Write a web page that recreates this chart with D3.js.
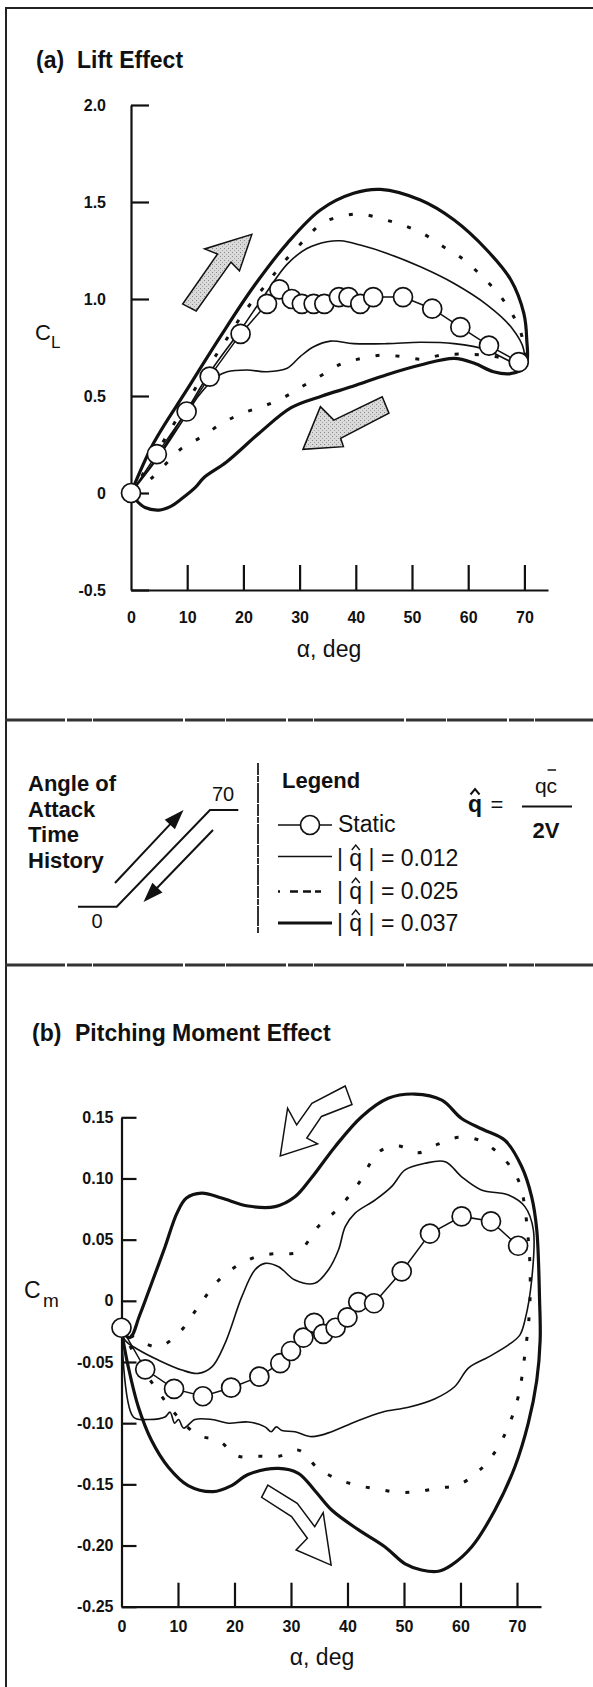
<!DOCTYPE html>
<html><head><meta charset="utf-8">
<script src="https://cdn.jsdelivr.net/npm/d3@7/dist/d3.min.js"></script>
<style>
html,body{margin:0;padding:0;background:#fff;}
svg{display:block;}
text{font-family:"Liberation Sans",Arial,Helvetica,sans-serif;fill:#111;}
</style></head><body>
<svg id="chart" width="593" height="1687"></svg>
<script>
// ---------------- DATA ----------------
const alphaTicks = [0,10,20,30,40,50,60,70];
const alphaTickLabels = ["0","10","20","30","40","50","60","70"];
const liftTicks = [2.0,1.5,1.0,0.5,0,-0.5];
const liftTickLabels = ["2.0","1.5","1.0","0.5","0","-0.5"];
const momentTicks = [0.15,0.10,0.05,0,-0.05,-0.10,-0.15,-0.20,-0.25];
const momentTickLabels = ["0.15","0.10","0.05","0","-0.05","-0.10","-0.15","-0.20","-0.25"];
const legendLabels = ["Static","0.012","0.025","0.037"];

// (a) Lift - static
const liftStaticAlpha = [0,4.6,9.9,14,19.5,24.2,26.4,28.6,30.4,32.5,34.4,37,38.7,40.8,43.1,48.4,53.6,58.6,63.7,69];
const liftStaticCL    = [0,0.20,0.42,0.60,0.82,0.975,1.05,1.0,0.975,0.975,0.975,1.01,1.01,0.975,1.01,1.01,0.95,0.855,0.76,0.675];
// |q|=0.012
const lift012UpAlpha = [0,5,10,14,19.5,24,27.8,31.3,34.9,37.3,40.8,45.6,51.5,57.5,63.4,67.6,69.9,69.5];
const lift012UpCL    = [0,0.2,0.43,0.62,0.84,1.03,1.18,1.26,1.295,1.30,1.278,1.235,1.166,1.08,0.969,0.857,0.737,0.66];
const lift012DnAlpha = [69.5,66,63.4,57.5,51.5,45.6,39.6,35.5,32.5,30.1,27.8,24.2,20.6,17.1,15.3,12,10,5,0];
const lift012DnCL    = [0.66,0.70,0.737,0.77,0.777,0.77,0.77,0.783,0.754,0.703,0.643,0.625,0.634,0.625,0.60,0.50,0.41,0.19,0];
// |q|=0.025
const lift025UpAlpha = [0,5,10,14,16.5,20,24.2,27.2,30.7,34,37.6,41.1,45,48.5,52.1,55.4,58.9,62.2,65.8,68.4,69.8,70];
const lift025UpCL    = [0,0.23,0.47,0.66,0.77,0.926,1.081,1.19,1.30,1.39,1.428,1.437,1.41,1.38,1.335,1.273,1.21,1.124,1.012,0.892,0.78,0.66];
const lift025DnAlpha = [70,67,63,58.6,55,51.8,48.2,44.7,41.1,37.6,34,30.4,26.9,23.3,19.7,16.2,12.6,9,5.7,3,0];
const lift025DnCL    = [0.66,0.69,0.71,0.716,0.71,0.69,0.703,0.711,0.694,0.668,0.608,0.548,0.488,0.445,0.41,0.359,0.29,0.23,0.135,0.06,0];
// |q|=0.037
const lift037UpAlpha = [0,4,9.9,15.9,21.8,27.8,33.7,39.6,44.4,51.5,57.5,63.4,67.6,69.9,70.4,70.2];
const lift037UpCL    = [0,0.256,0.53,0.806,1.063,1.287,1.459,1.545,1.565,1.51,1.407,1.25,1.098,0.926,0.80,0.65];
const lift037DnAlpha = [70.2,67.5,64.5,61,57.5,51.5,45.5,39.5,34,28.5,22.8,17,13,11.5,9,7,5,2.5,1,0];
const lift037DnCL    = [0.65,0.615,0.625,0.67,0.694,0.66,0.61,0.55,0.50,0.44,0.308,0.16,0.08,0.03,-0.03,-0.07,-0.088,-0.075,-0.04,0];
// direction arrows (a)
const liftArrowUpAlpha = [9.2,15.4,13.1,21.5,19.3,17.8,11.6];
const liftArrowUpCL    = [0.974,1.232,1.258,1.333,1.145,1.19,0.938];
const liftArrowDnAlpha = [30.6,33.7,36.1,44.7,45.9,37.3,37.8];
const liftArrowDnCL    = [0.225,0.445,0.376,0.496,0.411,0.282,0.239];

// (b) Pitching moment - static
const momStaticAlpha = [0,4.2,9.3,14.4,19.4,24.4,28.1,30,32.2,34.1,35.7,37.9,40,41.9,44.7,49.6,54.6,60.2,65.4,70.2];
const momStaticCm    = [-0.022,-0.056,-0.072,-0.078,-0.071,-0.062,-0.051,-0.041,-0.03,-0.018,-0.027,-0.022,-0.0135,-0.001,-0.002,0.024,0.055,0.069,0.065,0.045];
// |q|=0.012
const mom012UpAlpha = [0,2.1,4.7,7.7,8.6,9.4,10.1,11,13,16,18.9,22.4,25.4,26.5,27.4,28.4,30.7,33.7,37.2,41.3,46.1,50.8,55.5,59,61.4,64.9,68.5,70.5,71.4,72.6,72.9];
const mom012UpCm    = [-0.022,-0.095,-0.097,-0.095,-0.091,-0.1,-0.097,-0.104,-0.097,-0.097,-0.1,-0.099,-0.103,-0.107,-0.103,-0.106,-0.107,-0.111,-0.107,-0.099,-0.091,-0.087,-0.08,-0.07,-0.055,-0.046,-0.036,-0.028,-0.016,0.017,0.058];
const mom012DnAlpha = [72.9,71.4,68.5,63.7,60.2,57.3,53.7,50.2,47.8,44.9,41.3,39.6,38.4,36.6,34.2,30.7,27.8,25.4,23.6,21.3,18.3,16,13.6,10.7,6.5,3,0.6,0];
const mom012DnCm    = [0.058,0.077,0.0865,0.0906,0.1014,0.1137,0.1124,0.107,0.0933,0.0824,0.0715,0.0606,0.0415,0.0252,0.0143,0.017,0.0279,0.0306,0.0252,0.0034,-0.035,-0.054,-0.0593,-0.0566,-0.0484,-0.040,-0.032,-0.022];
// |q|=0.025
const mom025UpAlpha = [0,3,6.5,10,13.6,17.1,20.7,24.3,27.9,31.3,34.8,38.4,41.9,45.5,49,52.4,56,59.5,63,66.6,69.9,71.5,72.3];
const mom025UpCm    = [-0.022,-0.05,-0.074,-0.095,-0.11,-0.114,-0.127,-0.127,-0.127,-0.122,-0.137,-0.146,-0.151,-0.154,-0.1565,-0.156,-0.153,-0.1506,-0.14,-0.12,-0.084,-0.04,0.0];
const mom025DnAlpha = [72.3,72,70.2,66.7,63.2,59.6,56,52.5,49,45.6,41.9,38.4,34.8,31.3,27.8,24.3,20.7,17.1,13.6,10.1,6.5,3,0];
const mom025DnCm    = [0.0,0.05,0.099,0.1206,0.1314,0.1336,0.128,0.121,0.1265,0.1219,0.0955,0.0756,0.0606,0.0399,0.0388,0.0366,0.0293,0.0164,-0.0048,-0.0266,-0.0375,-0.032,-0.022];
// |q|=0.037
const mom037UpAlpha = [0,1.2,3,5.3,8.3,11.8,16.2,19.5,22.4,27.8,31.3,34.2,37.2,41.9,46.6,50.2,53.1,56.1,58.4,62,66.1,69.6,72,73.5,74.1,74,73.5];
const mom037UpCm    = [-0.025,-0.054,-0.087,-0.114,-0.136,-0.151,-0.156,-0.151,-0.142,-0.137,-0.141,-0.155,-0.171,-0.187,-0.201,-0.215,-0.22,-0.221,-0.216,-0.201,-0.171,-0.136,-0.1,-0.065,-0.032,0.0,0.058];
const mom037DnAlpha = [73.5,72.6,70.8,67.9,64,60.2,56.7,51.9,47.2,42.5,37.8,33.7,30.7,27.2,22.4,17.7,14.2,11.5,9.8,7.7,5.3,3.2,1.5,0];
const mom037DnCm    = [0.058,0.085,0.11,0.131,0.14,0.149,0.164,0.169,0.1655,0.1505,0.126,0.101,0.085,0.077,0.0775,0.084,0.088,0.084,0.0715,0.044,0.014,-0.012,-0.03,-0.025];
// direction arrows (b)
const momArrowTopAlpha = [39.6,33.7,31.0,29.4,28.1,34.7,32.8,35.4,40.8];
const momArrowTopCm    = [0.1756,0.1614,0.1438,0.1574,0.1185,0.1283,0.133,0.1507,0.1605];
const momArrowBotAlpha = [25.9,31.1,34.2,35.7,37.1,30.9,32.9,30.1,24.8];
const momArrowBotCm    = [-0.1506,-0.1655,-0.1846,-0.1732,-0.216,-0.2037,-0.1941,-0.1764,-0.1606];

// ---------------- DRAW ----------------
const svg = d3.select("#chart");
const zip = (a,b) => a.map((v,i)=>[v,b[i]]);
const INK = "#111";

// stipple pattern for shaded arrows
const defs = svg.append("defs");
const pat = defs.append("pattern").attr("id","stip").attr("width",4).attr("height",4).attr("patternUnits","userSpaceOnUse");
pat.append("rect").attr("width",4).attr("height",4).attr("fill","#dadada");
pat.append("rect").attr("x",0).attr("y",0).attr("width",1).attr("height",1).attr("fill","#8a8a8a");
pat.append("rect").attr("x",2).attr("y",2).attr("width",1).attr("height",1).attr("fill","#a5a5a5");

// frame & dividers
svg.append("path").attr("d","M6,1687 V8 H593").attr("fill","none").attr("stroke","#222").attr("stroke-width",2);
[720,965].forEach(y=>{
  svg.append("line").attr("x1",5).attr("x2",593).attr("y1",y).attr("y2",y)
    .attr("stroke","#333").attr("stroke-width",3).attr("stroke-dasharray","60,2,25,1,90,2,40,1");
});

function styles(sel, kind){
  if(kind==="thin") sel.attr("stroke-width",1.6);
  if(kind==="dot") sel.attr("stroke-width",3).attr("stroke-dasharray","4,16");
  if(kind==="thick") sel.attr("stroke-width",3.2);
  return sel;
}

function panel(cfg){
  const g = svg.append("g");
  const x = d3.scaleLinear().domain(cfg.xDomain).range(cfg.xRange);
  const y = d3.scaleLinear().domain(cfg.yDomain).range(cfg.yRange);
  // axes
  const ax = g.append("g").attr("transform",`translate(0,${cfg.yRange[0]})`)
    .call(d3.axisBottom(x).tickValues(alphaTicks).tickFormat((d,i)=>alphaTickLabels[i])
      .tickSize(-cfg.xTickLen).tickSizeOuter(0).tickPadding(cfg.xPad));
  const ay = g.append("g").attr("transform",`translate(${cfg.xRange[0]},0)`)
    .call(d3.axisLeft(y).tickValues(cfg.yTicks).tickFormat((d,i)=>cfg.yLabels[i])
      .tickSize(-cfg.yTickLen).tickSizeOuter(0).tickPadding(cfg.yPad));
  [ax,ay].forEach(a=>{
    a.selectAll("path,line").attr("stroke",INK).attr("stroke-width",2.2);
    a.selectAll("text").attr("font-size",16).attr("font-weight","bold").attr("fill",INK)
      .attr("font-family","'Liberation Sans',Arial,sans-serif");
  });
  ax.selectAll(".tick").filter(d=>d===0).select("line").remove();
  const ln = d3.line().x(d=>x(d[0])).y(d=>y(d[1])).curve(d3.curveCatmullRom.alpha(0.5));
  const poly = d3.line().x(d=>x(d[0])).y(d=>y(d[1])).curve(d3.curveLinearClosed);
  // arrows
  cfg.arrows.forEach(a=>{
    g.append("path").attr("d",poly(zip(a.ax,a.ay))).attr("fill",a.fill).attr("stroke",INK)
      .attr("stroke-width",1.5).attr("stroke-linejoin","miter");
  });
  // curves
  cfg.curves.forEach(c=>{
    styles(g.append("path").attr("d",ln(zip(c.ax,c.ay))).attr("fill","none").attr("stroke",INK)
      .attr("stroke-linejoin","round"), c.kind);
  });
  // static
  const st = zip(cfg.sx,cfg.sy);
  g.append("path").attr("d",d3.line().x(d=>x(d[0])).y(d=>y(d[1]))(st))
    .attr("fill","none").attr("stroke",INK).attr("stroke-width",1.5);
  g.selectAll("circle.st").data(st).join("circle").attr("class","st")
    .attr("cx",d=>x(d[0])).attr("cy",d=>y(d[1])).attr("r",9.5)
    .attr("fill","#fff").attr("stroke",INK).attr("stroke-width",1.7);
  return {x,y};
}

panel({
  xDomain:[0,74.2], xRange:[131,548], yDomain:[-0.5,2.0], yRange:[590,105],
  xTickLen:25, yTickLen:18, xPad:22, yPad:25, yTicks:liftTicks, yLabels:liftTickLabels,
  sx:liftStaticAlpha, sy:liftStaticCL,
  arrows:[{ax:liftArrowUpAlpha,ay:liftArrowUpCL,fill:"url(#stip)"},{ax:liftArrowDnAlpha,ay:liftArrowDnCL,fill:"url(#stip)"}],
  curves:[
    {ax:lift012UpAlpha.concat(lift012DnAlpha.slice(1)),ay:lift012UpCL.concat(lift012DnCL.slice(1)),kind:"thin"},
    {ax:lift025UpAlpha.concat(lift025DnAlpha.slice(1)),ay:lift025UpCL.concat(lift025DnCL.slice(1)),kind:"dot"},
    {ax:lift037UpAlpha.concat(lift037DnAlpha.slice(1)),ay:lift037UpCL.concat(lift037DnCL.slice(1)),kind:"thick"}
  ]
});

panel({
  xDomain:[0,74.25], xRange:[121.5,541], yDomain:[-0.25,0.15], yRange:[1606.7,1117.3],
  xTickLen:24, yTickLen:15, xPad:14, yPad:8, yTicks:momentTicks, yLabels:momentTickLabels,
  sx:momStaticAlpha, sy:momStaticCm,
  arrows:[{ax:momArrowTopAlpha,ay:momArrowTopCm,fill:"#fff"},{ax:momArrowBotAlpha,ay:momArrowBotCm,fill:"#fff"}],
  curves:[
    {ax:mom012UpAlpha.concat(mom012DnAlpha.slice(1)),ay:mom012UpCm.concat(mom012DnCm.slice(1)),kind:"thin"},
    {ax:mom025UpAlpha.concat(mom025DnAlpha.slice(1)),ay:mom025UpCm.concat(mom025DnCm.slice(1)),kind:"dot"},
    {ax:mom037UpAlpha.concat(mom037DnAlpha.slice(1)),ay:mom037UpCm.concat(mom037DnCm.slice(1)),kind:"thick"}
  ]
});

// ---------- texts ----------
function txt(x,y,s,size,weight,anchor){
  return svg.append("text").attr("x",x).attr("y",y).attr("font-size",size)
    .attr("font-weight",weight||"normal").attr("text-anchor",anchor||"start").text(s);
}
function hat(cx,top,w,h,sw){
  svg.append("path").attr("d",`M${cx-w},${top+h} L${cx},${top} L${cx+w},${top+h}`)
    .attr("fill","none").attr("stroke",INK).attr("stroke-width",sw||1.4);
}
txt(36,68,"(a)",23,"bold"); txt(77,68,"Lift Effect",23,"bold");
txt(32,1041,"(b)",23,"bold"); txt(75,1041,"Pitching Moment Effect",23,"bold");
txt(35,340,"C",22); txt(51,348,"L",17);
txt(24,1298,"C",23); txt(43,1307,"m",19);
txt(329,657,"α, deg",23,"normal","middle");
txt(322,1665,"α, deg",23,"normal","middle");

// left legend block: angle of attack time history
["Angle of","Attack","Time","History"].forEach((s,i)=>txt(28,791+i*25.5,s,22,"bold"));
svg.append("path").attr("d","M78,906.7 H116.7 L210,810 H238.3").attr("fill","none").attr("stroke",INK).attr("stroke-width",2);
txt(223,801,"70",20,"normal","middle");
txt(97,928,"0",20,"normal","middle");
function arrowLine(x1,y1,x2,y2){
  const dx=x2-x1, dy=y2-y1, L=Math.hypot(dx,dy), ux=dx/L, uy=dy/L, h=20, w=7;
  const bx=x2-ux*h, by=y2-uy*h;
  svg.append("line").attr("x1",x1).attr("y1",y1).attr("x2",bx+ux*2).attr("y2",by+uy*2).attr("stroke",INK).attr("stroke-width",2);
  svg.append("path").attr("d",`M${x2},${y2} L${bx-uy*w},${by+ux*w} L${bx+uy*w},${by-ux*w} Z`).attr("fill",INK);
}
arrowLine(115,883,183.5,810);
arrowLine(213,830,143.5,902);
svg.append("line").attr("x1",258).attr("x2",258).attr("y1",763).attr("y2",933)
  .attr("stroke","#333").attr("stroke-width",2).attr("stroke-dasharray","12,1,6,1,20,1");

// legend
txt(282,788,"Legend",22,"bold");
svg.append("line").attr("x1",278).attr("x2",332).attr("y1",825).attr("y2",825).attr("stroke",INK).attr("stroke-width",1.5);
svg.append("circle").attr("cx",310).attr("cy",825).attr("r",9.5).attr("fill","#fff").attr("stroke",INK).attr("stroke-width",1.7);
txt(338,832,legendLabels[0],23);
const rowY=[856.5,891.5,923], rowBase=[866,899,931], kinds=["thin","dot","thick"];
legendLabels.slice(1).forEach((lab,i)=>{
  const l = svg.append("line").attr("x1",278).attr("x2",i===1?323:332).attr("y1",rowY[i]).attr("y2",rowY[i]).attr("stroke",INK);
  if(kinds[i]==="dot") l.attr("stroke-width",2.6).attr("stroke-dasharray","2,10,8,5,8,4,6");
  else styles(l,kinds[i]);
  const t = txt(337,rowBase[i],"| q | = "+lab,23);
  const r = t.node().getExtentOfChar(2);
  hat(r.x+r.width/2,rowBase[i]-21,4,5,1.4);
});
// formula
const qf = txt(468,812,"q",23,"bold");
const qr = qf.node().getExtentOfChar(0);
hat(qr.x+qr.width/2,812-23,4.5,5.5,2);
txt(497,812,"=",22,"normal","middle");
svg.append("line").attr("x1",522).attr("x2",572).attr("y1",806.5).attr("y2",806.5).attr("stroke",INK).attr("stroke-width",1.8);
const num = txt(546,793,"qc",21,"normal","middle");
const cr = num.node().getExtentOfChar(1);
svg.append("line").attr("x1",cr.x+1).attr("x2",cr.x+cr.width-1).attr("y1",770).attr("y2",770).attr("stroke",INK).attr("stroke-width",1.5);
txt(546,838,"2V",22,"bold","middle");
</script>
</body></html>
